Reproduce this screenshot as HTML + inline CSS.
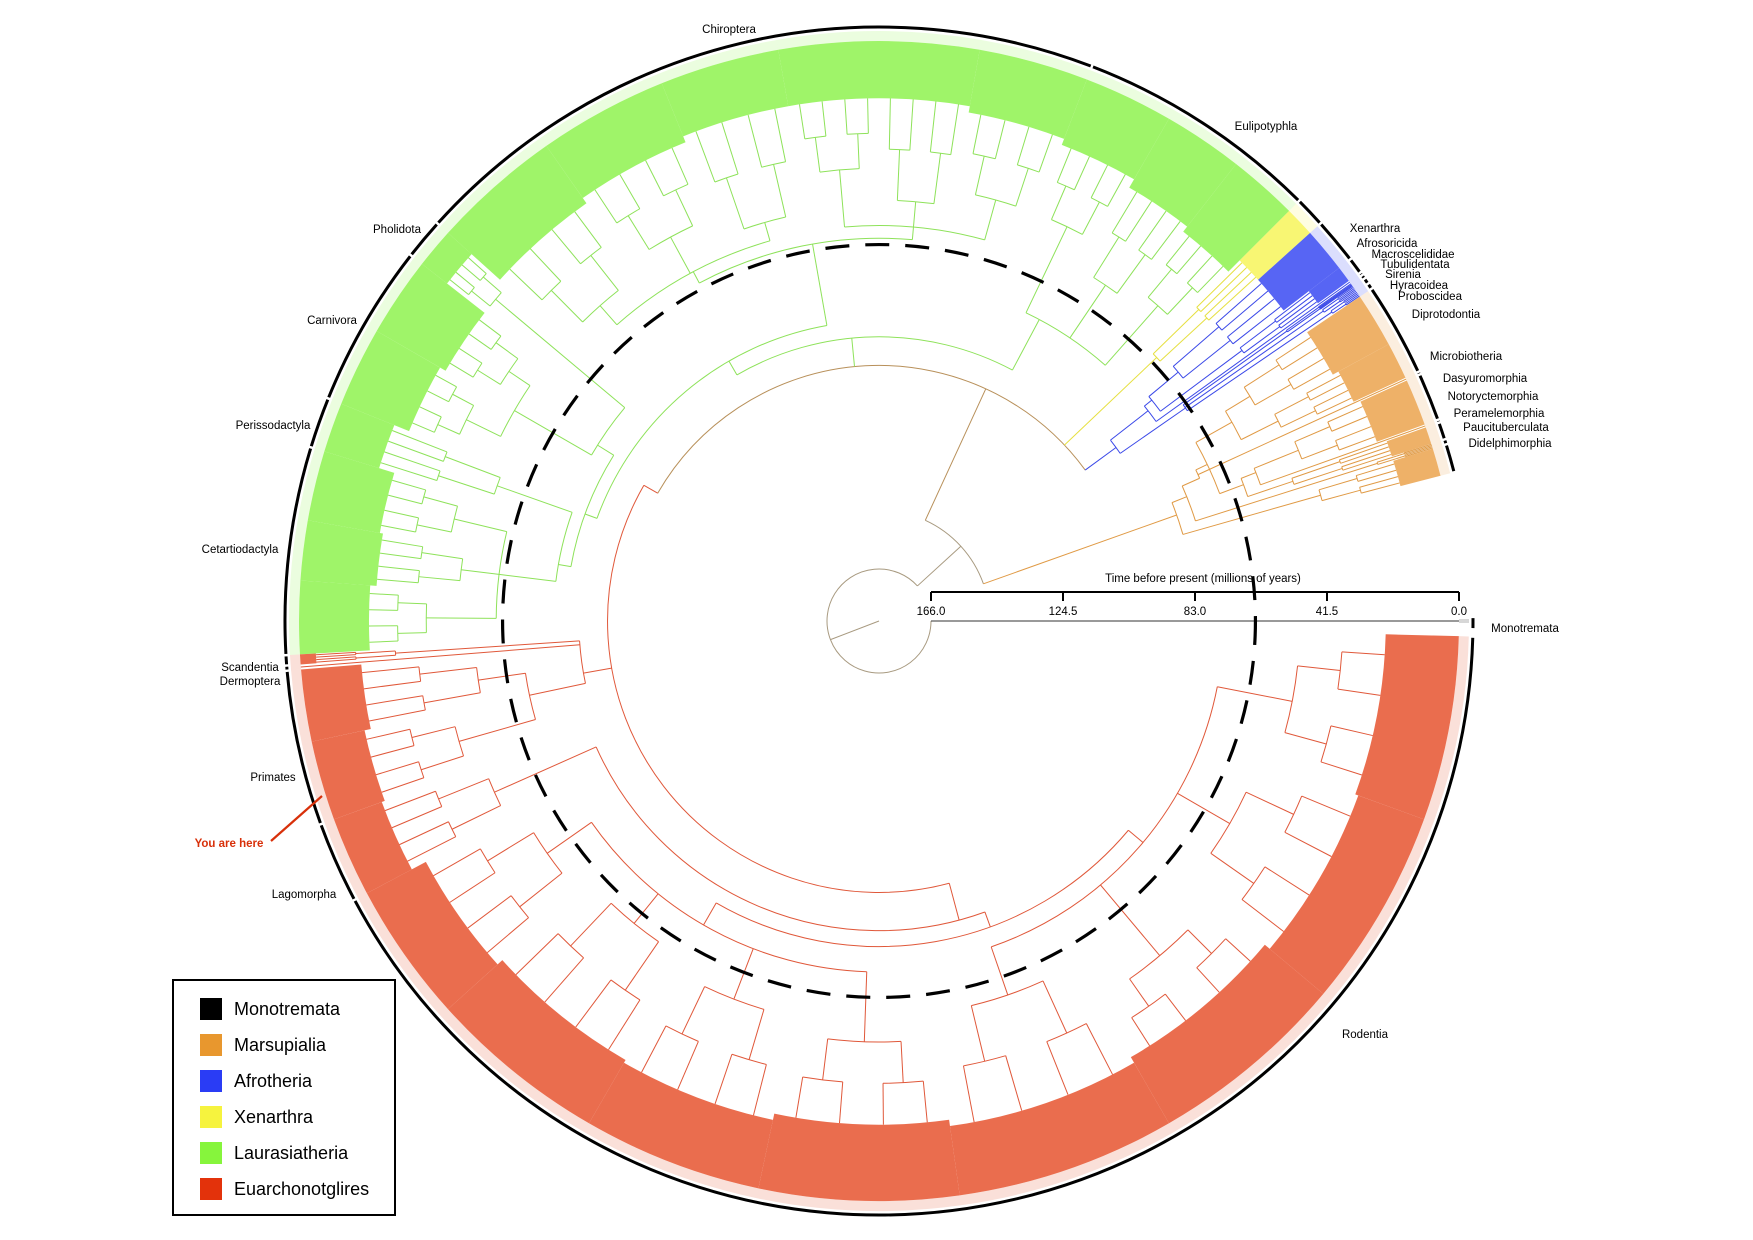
<!DOCTYPE html>
<html><head><meta charset="utf-8"><style>
html,body{margin:0;padding:0;background:#fff;}
svg{display:block;font-family:"Liberation Sans",sans-serif;}
</style></head><body>
<svg id="chart" width="1753" height="1240" viewBox="0 0 1753 1240" xmlns="http://www.w3.org/2000/svg">
<g id="tree"></g>
<g id="deco"></g>
</svg>
<script>
// ---- tree data (ages in Ma, angles in degrees CCW from east) ----
const nodeIds   = ["root","mono","theria","marsu","didel","mar2","pauci","austr","micro","eomet","dipro","dip1","dip2","dasy3","peram","dasy4","notor","dasyu","plac","afro","paen","probo","hyrac","siren","afroi","tubul","macaf","macro","afros","xen","laur","euli","eul1","eul2","eul3","scrot","chir","yin","chi1","chi2","chi3","yang","chi4","chi5","chi6","fere","ferae","pholi","carn","car1","car2","euung","peris","cet","cet1","cet2","cet3","euar","euarc","scand","derm","prim","pri1","pri2","glir","lago","rod","rodA","rod1","rod2","rod3","rod4","rodB","rod5","rod6","rod7","rod8"];
const nodeParents = [null,"root","root","theria","marsu","marsu","mar2","mar2","austr","austr","eomet","dipro","dipro","eomet","dasy3","dasy3","dasy4","dasy4","theria","plac","afro","paen","paen","paen","afro","afroi","afroi","macaf","macaf","plac","plac","laur","euli","euli","euli","laur","scrot","chir","yin","yin","yin","chir","yang","yang","yang","scrot","fere","ferae","ferae","carn","carn","fere","euung","euung","cet","cet","cet","plac","euar","euarc","euarc","euarc","prim","prim","euar","glir","glir","rod","rodA","rodA","rodA","rodA","rod","rodB","rodB","rodB","rodB"];
const nodeAges  = [166,0,147.5,83,38,78,18,72,0,68,55,42,46,60,45,55,0,40,102,90,65,10,12,25,75,0,72,40,60,62,93,75,50,55,45,88,62,58,45,50,40,58,52,45,50,84,78,25,50,42,38,80,55,62,45,50,40,97,88,30,0,70,55,45,85,50,80,72,55,60,55,50,74,58,45,55,50];
const stemAngles= [201,360,42.4,19.6,15.9,22,17.55,24,24.65,25.5,29.4,26.6,31.2,20.5,18.65,21.5,19.65,22.15,65.3,36.2,34.8,34.3,34.9,35.4,38,35.75,39,36.7,39.75,43.5,95.5,62,48.5,56,64.5,120,100,85,74.5,85,95,118,106,118.5,131.5,160,148,140,150,146,154,170,160.5,173,166.5,173,179.6,150,190,183.8,184.55,192,188.4,196,285,204,290,240,215,231,249,268,320,289,310,330,349];
const spanStart = [null,359.8,null,null,14.5,null,17.3,null,24.5,null,null,24.8,28.5,null,17.8,null,19.5,19.8,null,null,null,34,34.6,35.2,null,35.6,null,35.9,37.5,42,null,null,45,52,60,null,null,null,69,80,90,null,100,112,125,null,null,138,null,142,150,null,158,null,163,170,176,null,null,183.3,184.3,null,184.8,192,null,200,null,null,208,222,240,258,null,278,300,320,340];
const spanEnd   = [null,360.2,null,null,17.3,null,17.8,null,24.8,null,null,28.5,34,null,19.5,null,19.8,24.5,null,null,null,34.6,35.2,35.6,null,35.9,null,37.5,42,45,null,null,52,60,69,null,null,null,80,90,100,null,112,125,138,null,null,142,null,150,158,null,163,null,170,176,183.3,null,null,184.3,184.8,null,192,200,null,208,null,null,222,240,258,278,null,300,320,340,358.5];
const bandAges  = [null,0,null,null,13,null,0,null,0,null,null,18,20,null,13,null,0,16,null,null,null,0,0,0,null,0,null,12,22,22,null,null,27,25,22,null,null,null,20,18,18,null,18,20,22,null,null,10,null,25,23,null,18,null,23,24,22,null,null,5,0,null,19,17,null,16,null,null,21,23,22,24,null,22,24,22,23];
const nodeGroups= ["S","M","S","O","O","O","O","O","O","O","O","O","O","O","O","O","O","O","P","A","A","A","A","A","A","A","A","A","A","X","L","L","L","L","L","L","L","L","L","L","L","L","L","L","L","L","L","L","L","L","L","L","L","L","L","L","L","E","E","E","E","E","E","E","E","E","E","E","E","E","E","E","E","E","E","E","E"];
// outer ring order spans
const orderStarts = [14.5,17.3,17.8,19.5,19.8,24.5,24.8,34,34.6,35.2,35.6,35.9,37.5,42,45,69,138,142,158,163,183.3,184.3,184.8,200,208,359.2];
const orderEnds   = [17.3,17.8,19.5,19.8,24.5,24.8,34,34.6,35.2,35.6,35.9,37.5,42,45,69,138,142,158,163,183.3,184.3,184.8,200,208,358.5,360.4];
// axis
const axisTicks = [166.0,124.5,83.0,41.5,0.0];
const kpgAge = 64;

const CX=879, CY=621, R0=52, RT=580, TMAX=166;
const lineCol={S:"#a89a80",M:"#333333",P:"#b8905a",O:"#e09a45",A:"#3a48e8",X:"#e6e040",L:"#8ee25a",E:"#e0583a"};
const fillCol={S:"#a89a80",M:"#222222",P:"#b8905a",O:"#eba34e",A:"#3a4af2",X:"#f7f45a",L:"#8ef24f",E:"#e6532f"};
const NS="http://www.w3.org/2000/svg";
const tree=document.getElementById('tree'), deco=document.getElementById('deco');
function rad(age){return R0+(TMAX-age)/TMAX*(RT-R0);}
function pt(r,a){const t=a*Math.PI/180;return [CX+r*Math.cos(t),CY-r*Math.sin(t)];}
function mk(tag,attrs,parent){const e=document.createElementNS(NS,tag);for(const k in attrs)e.setAttribute(k,attrs[k]);(parent||tree).appendChild(e);return e;}
function arcD(r,a1,a2){const p=pt(r,a1),q=pt(r,a2);const large=(a2-a1)>180?1:0;return `M${p[0].toFixed(2)},${p[1].toFixed(2)}A${r},${r} 0 ${large} 0 ${q[0].toFixed(2)},${q[1].toFixed(2)}`;}
function wedgeD(r1,r2,a1,a2){const p1=pt(r2,a1),p2=pt(r2,a2),p3=pt(r1,a2),p4=pt(r1,a1);const large=(a2-a1)>180?1:0;
 return `M${p1[0]},${p1[1]}A${r2},${r2} 0 ${large} 0 ${p2[0]},${p2[1]}L${p3[0]},${p3[1]}A${r1},${r1} 0 ${large} 1 ${p4[0]},${p4[1]}Z`;}
function radial(a,r1,r2,col,name){const p=pt(r1,a),q=pt(r2,a);const l=mk('line',{x1:p[0],y1:p[1],x2:q[0],y2:q[1],stroke:col,'stroke-width':1});
 
 return l;}
function arcLine(r,a1,a2,col,name){const e=mk('path',{d:arcD(r,a1,a2),fill:'none',stroke:col,'stroke-width':1});
 
 return e;}

const idx={};nodeIds.forEach((id,i)=>idx[id]=i);
nodeIds.forEach((id,i)=>{
  if(spanStart[i]===null)return;
  const g=nodeGroups[i];
  const fr=mk('path',{d:wedgeD(RT,RT+10,spanStart[i],spanEnd[i]),fill:fillCol[g],opacity:0.18});
  
  
  if(bandAges[i]>0){
    const w=mk('path',{d:wedgeD(rad(bandAges[i]),RT,spanStart[i],spanEnd[i]),fill:fillCol[g],opacity:0.85});
    
    
  }
});
nodeIds.forEach((id,i)=>{
  const g=nodeGroups[i], col=lineCol[g];
  const rN=rad(nodeAges[i]);
  if(nodeParents[i]!==null){
    const pi=idx[nodeParents[i]];
    radial(stemAngles[i],rad(nodeAges[pi]),rN,col,'branch-'+id);
  }
  const kids=nodeIds.map((k,j)=>j).filter(j=>nodeParents[j]===id);
  if(kids.length){
    let angs=kids.map(j=>stemAngles[j]).concat([stemAngles[i]]);
    const lo=Math.min(...angs),hi=Math.max(...angs);
    arcLine(rN,lo,hi,col,'node-arc-'+id);
  } else if(nodeAges[i]>0){
    const a0=spanStart[i],a1=spanEnd[i],w=a1-a0,band=bandAges[i];
    const m=(nodeAges[i]+band)/2, rM=rad(m), rB=rad(band);
    const la=a0+w/4, ra=a1-w/4;
    arcLine(rN,la,ra,col,'crown-arc-'+id);
    [la,ra].forEach((a,k)=>{
      radial(a,rN,rM,col,'sub-branch-'+id);
      const s0=a-w/8,s1=a+w/8;
      arcLine(rM,s0,s1,col,'sub-arc-'+id);
      radial(s0,rM,rB,col,'tip-branch-'+id);
      radial(s1,rM,rB,col,'tip-branch-'+id);
    });
  }
});
radial(stemAngles[0],0,R0,lineCol.S,'root-stem');

orderStarts.forEach((s,i)=>{
  const e=mk('path',{d:arcD(594,s+0.12,orderEnds[i]-0.12),fill:'none',stroke:'#000','stroke-width':3},deco);
  
  
});
const kc=mk('circle',{cx:CX,cy:CY,r:rad(kpgAge),fill:'none',stroke:'#000','stroke-width':3.2,'stroke-dasharray':'24 16'},deco);



const AY=592;
const ax=mk('line',{x1:rad(166)+CX,y1:AY,x2:rad(0)+CX,y2:AY,stroke:'#000','stroke-width':2},deco);


axisTicks.forEach(t=>{
  const x=CX+rad(t);
  const tk=mk('line',{x1:x,y1:AY,x2:x,y2:AY+9,stroke:'#000','stroke-width':2},deco);
  
  
  const tx=mk('text',{x:x,y:AY+23,'text-anchor':'middle','font-size':11.5,fill:'#000'},deco);
  tx.textContent=t.toFixed(1);
  
  
});
const at=mk('text',{x:1203,y:582,'text-anchor':'middle','font-size':11.5,fill:'#000'},deco);
at.textContent='Time before present (millions of years)';



const labelTexts=["Chiroptera","Eulipotyphla","Xenarthra","Afrosoricida","Macroscelididae","Tubulidentata","Sirenia","Hyracoidea","Proboscidea","Diprotodontia","Microbiotheria","Dasyuromorphia","Notoryctemorphia","Peramelemorphia","Paucituberculata","Didelphimorphia","Monotremata","Rodentia","Lagomorpha","Primates","Dermoptera","Scandentia","Cetartiodactyla","Perissodactyla","Carnivora","Pholidota"];
const labelX=[729,1266,1375,1387,1413,1415,1403,1419,1430,1446,1466,1485,1493,1499,1506,1510,1525,1365,304,273,250,250,240,273,332,397];
const labelY=[29,126,228,243,254,264,274,285,296,314,356,378,396,413,427,443,628,1034,894,777,681,667,549,425,320,229];
labelTexts.forEach((s,i)=>{
  const t=mk('text',{x:labelX[i],y:labelY[i]+4,'text-anchor':'middle','font-size':11.5,fill:'#000'},deco);
  t.textContent=s;
  
  
});
const yl=mk('line',{x1:271,y1:841,x2:322,y2:796,stroke:'#d8300a','stroke-width':2.2},deco);


const yt=mk('text',{x:229,y:847,'text-anchor':'middle','font-size':11.5,'font-weight':'bold',fill:'#d8300a'},deco);
yt.textContent='You are here';



const legNames=["Monotremata","Marsupialia","Afrotheria","Xenarthra","Laurasiatheria","Euarchonotglires"];
const legCols=["#000000","#e8972e","#2a3cf5","#f6f33e","#86f53c","#e3320b"];
const lb=mk('rect',{x:173,y:980,width:222,height:235,fill:'#fff',stroke:'#000','stroke-width':2},deco);


legNames.forEach((n,i)=>{
  const y=998+i*36;
  const sw=mk('rect',{x:200,y:y,width:22,height:22,fill:legCols[i]},deco);
  
  
  const t=mk('text',{x:234,y:y+17,'font-size':18,fill:'#000'},deco);
  t.textContent=n;
  
  
});
</script>
</body></html>
